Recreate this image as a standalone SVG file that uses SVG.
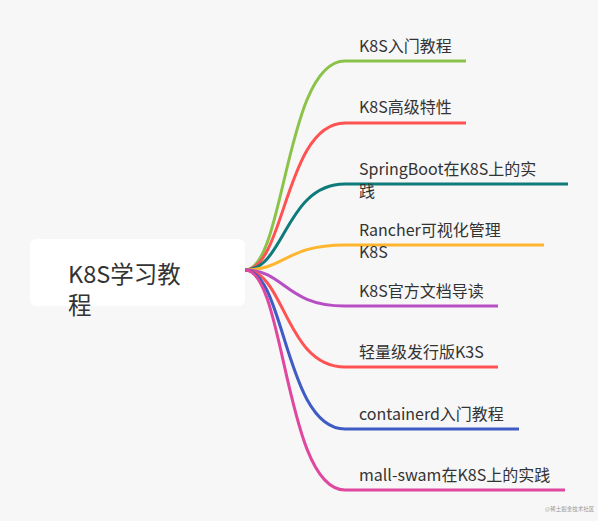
<svg xmlns="http://www.w3.org/2000/svg" width="598" height="521" viewBox="0 0 598 521">
<style>
.bg{fill:#f7f7f7}
.root{fill:#ffffff}
.rt{font-family:"Noto Sans CJK SC","Noto Sans",sans-serif;font-size:23.5px;fill:#333333}
.t{font-family:"Noto Sans CJK SC","Noto Sans",sans-serif;font-size:16px;fill:#333333}
.c{fill:none;stroke-width:3;stroke-linecap:butt}
.wm{font-family:"Noto Sans CJK SC",sans-serif;font-size:5.5px;fill:#999999}
</style>
<rect class="bg" x="0" y="0" width="598" height="521"/>
<g id="connectors">
<path class="c" stroke="#8bc34a" d="M245,270 C285,270 285,61 345,61 H466"/>
<path class="c" stroke="#ff5252" d="M245,270 C285,270 285,123 345,123 H466"/>
<path class="c" stroke="#0e7a7a" d="M245,270 C285,270 285,184 345,184 H568"/>
<path class="c" stroke="#ffb62e" d="M245,270 C285,270 285,245 345,245 H544"/>
<path class="c" stroke="#b84ec4" d="M245,270 C285,270 285,306 345,306 H498"/>
<path class="c" stroke="#ff5252" d="M245,270 C285,270 285,367 345,367 H498"/>
<path class="c" stroke="#3f5bc4" d="M245,270 C285,270 285,429 345,429 H519"/>
<path class="c" stroke="#e0479e" d="M245,270 C285,270 285,490 345,490 H565"/>
</g>
<g id="root">
<rect class="root" x="30" y="239" width="215" height="67" rx="6"/>
<text class="rt" x="68" y="283">K8S学习教</text>
<text class="rt" x="68" y="314">程</text>
</g>
<g id="n1"><text class="t" x="359" y="52">K8S入门教程</text></g>
<g id="n2"><text class="t" x="359" y="113">K8S高级特性</text></g>
<g id="n3"><text class="t" x="359" y="175">SpringBoot在K8S上的实</text><text class="t" x="359" y="197">践</text></g>
<g id="n4"><text class="t" x="359" y="236">Rancher可视化管理</text><text class="t" x="359" y="258">K8S</text></g>
<g id="n5"><text class="t" x="359" y="297">K8S官方文档导读</text></g>
<g id="n6"><text class="t" x="359" y="358">轻量级发行版K3S</text></g>
<g id="n7"><text class="t" x="359" y="420">containerd入门教程</text></g>
<g id="n8"><text class="t" x="359" y="481">mall-swam在K8S上的实践</text></g>
<text class="wm" x="545" y="511">@稀土掘金技术社区</text>
</svg>
